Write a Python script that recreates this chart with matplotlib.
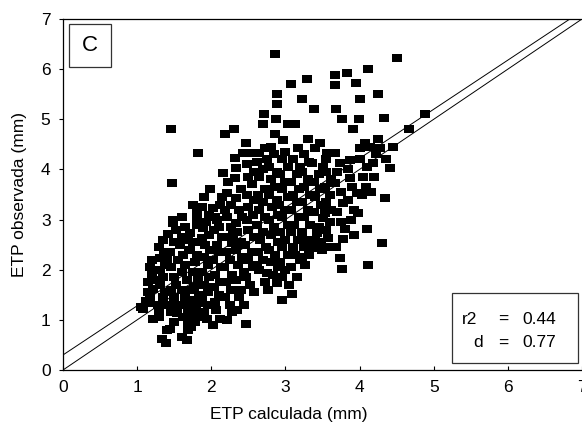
import matplotlib
matplotlib.use("Agg")
import matplotlib.pyplot as plt
from matplotlib.patches import Rectangle

plt.rcParams['font.family'] = ['Liberation Sans', 'DejaVu Sans']

# ETP calculada (x) / ETP observada (y) pairs
points = [
    # x 1.05-1.25
    (1.05,1.25),(1.08,1.21),(1.12,1.38),(1.17,1.33),(1.17,1.45),(1.15,1.55),(1.22,1.01),
    (1.21,1.62),(1.15,1.75),(1.24,1.79),(1.20,1.90),(1.18,2.05),(1.20,2.20),(1.25,2.00),
    # x 1.25-1.4
    (1.31,1.69),(1.35,1.85),(1.31,1.99),(1.31,2.23),(1.40,2.19),(1.33,0.61),(1.39,0.53),
    (1.28,1.30),(1.30,1.15),(1.35,1.45),(1.38,1.55),(1.30,2.45),(1.35,2.60),(1.38,2.10),
    (1.40,1.30),(1.40,0.80),(1.36,2.35),(1.30,1.05),
    # x 1.4-1.55
    (1.46,4.81),(1.47,3.73),(1.42,2.71),(1.48,2.93),(1.48,2.99),(1.44,2.35),(1.50,2.55),
    (1.45,2.05),(1.50,1.85),(1.45,1.60),(1.50,1.45),(1.47,1.30),(1.54,1.13),(1.44,0.81),
    (1.52,1.70),(1.55,2.20),(1.45,1.15),(1.50,0.95),(1.53,2.80),
    # x 1.55-1.7
    (1.58,2.49),(1.62,2.30),(1.60,2.65),(1.65,2.10),(1.60,1.95),(1.67,1.80),(1.60,1.60),
    (1.65,1.45),(1.58,1.30),(1.68,1.20),(1.62,1.05),(1.68,0.93),(1.68,0.79),(1.67,0.59),
    (1.60,0.65),(1.70,2.40),(1.68,2.60),(1.65,2.85),(1.60,3.05),(1.70,1.60),(1.70,1.35),
    # x 1.7-1.85
    (1.71,2.73),(1.81,2.89),(1.81,2.99),(1.81,3.13),(1.82,4.33),(1.75,3.30),(1.71,2.39),
    (1.81,2.29),(1.78,2.15),(1.75,1.95),(1.82,1.80),(1.77,1.65),(1.83,1.50),(1.76,1.40),
    (1.82,1.33),(1.80,1.20),(1.75,1.10),(1.73,0.85),(1.78,0.95),(1.84,2.55),(1.76,2.55),
    (1.84,1.05),
    # x 1.85-2.0
    (1.87,2.63),(1.89,2.83),(1.98,3.61),(1.90,3.45),(1.94,1.01),(1.90,1.15),(1.95,1.30),
    (1.88,1.45),(1.96,1.55),(1.90,1.70),(1.97,1.85),(1.88,1.95),(1.95,2.10),(1.90,2.25),
    (1.98,2.40),(1.92,2.50),(1.97,2.70),(1.93,2.95),(1.97,3.10),(1.88,3.25),
    # x 2.0-2.15
    (2.02,3.23),(2.12,3.29),(2.08,2.99),(2.08,2.49),(2.12,1.01),(2.07,1.19),(2.05,1.35),
    (2.10,1.50),(2.03,1.65),(2.12,1.75),(2.05,1.90),(2.13,2.05),(2.02,2.20),(2.10,2.35),
    (2.14,2.65),(2.03,2.80),(2.10,2.85),(2.16,3.93),(2.15,3.45),(2.05,3.05),(2.02,0.90),
    # x 2.15-2.3
    (2.18,4.71),(2.21,3.53),(2.21,3.05),(2.22,2.65),(2.28,2.53),(2.29,2.69),(2.21,0.99),
    (2.25,1.30),(2.18,1.45),(2.27,1.60),(2.20,1.75),(2.28,1.90),(2.17,2.05),(2.25,2.20),
    (2.20,2.35),(2.26,2.85),(2.18,3.20),(2.27,3.30),(2.30,4.81),(2.22,3.75),(2.28,1.15),
    # x 2.3-2.45
    (2.32,3.83),(2.34,3.43),(2.34,2.93),(2.32,4.23),(2.34,4.03),(2.43,4.33),(2.40,3.60),
    (2.38,3.20),(2.42,3.05),(2.35,2.75),(2.40,2.55),(2.33,2.40),(2.42,2.25),(2.36,2.10),
    (2.44,1.95),(2.33,1.80),(2.40,1.60),(2.37,1.45),(2.44,1.30),(2.35,1.20),
    # x 2.45-2.6
    (2.47,4.53),(2.55,4.33),(2.47,0.91),(2.48,2.99),(2.50,3.85),(2.55,3.70),(2.48,3.50),
    (2.58,3.40),(2.50,3.25),(2.56,3.10),(2.50,2.80),(2.58,2.65),(2.46,2.50),(2.55,2.35),
    (2.50,2.20),(2.56,2.05),(2.47,1.85),(2.52,1.70),(2.58,1.55),(2.48,4.10),(2.58,3.95),
    # x 2.6-2.75
    (2.71,5.11),(2.70,4.91),(2.72,4.43),(2.65,4.33),(2.65,1.99),(2.62,4.15),(2.70,4.00),
    (2.65,3.85),(2.73,3.60),(2.63,3.50),(2.70,3.35),(2.65,3.20),(2.73,3.05),(2.62,2.90),
    (2.70,2.75),(2.66,2.60),(2.74,2.45),(2.63,2.35),(2.70,2.20),(2.62,2.10),(2.75,1.93),
    (2.72,1.75),(2.75,4.20),
    # x 2.75-2.9
    (2.86,6.31),(2.88,5.51),(2.88,5.31),(2.87,5.01),(2.86,4.71),(2.83,1.89),(2.88,1.73),
    (2.77,1.59),(2.80,4.45),(2.85,4.30),(2.78,4.05),(2.88,3.95),(2.80,3.80),(2.86,3.65),
    (2.78,3.50),(2.88,3.40),(2.82,3.25),(2.90,3.10),(2.78,3.00),(2.85,2.85),(2.80,2.70),
    (2.90,2.55),(2.78,2.40),(2.86,2.30),(2.80,2.15),(2.90,2.05),
    # x 2.9-3.05
    (2.97,4.59),(3.03,4.91),(2.95,1.39),(3.00,4.35),(2.95,4.20),(3.03,4.05),(2.93,3.90),
    (3.00,3.75),(2.95,3.60),(3.04,3.45),(2.92,3.30),(3.00,3.20),(2.95,3.05),(3.04,2.90),
    (2.93,2.75),(3.00,2.60),(2.95,2.45),(3.04,2.30),(2.93,2.15),(3.00,2.00),(2.95,1.85),
    (3.05,1.70),
    # x 3.05-3.2
    (3.07,5.71),(3.13,4.91),(3.17,4.43),(3.09,1.51),(3.13,2.29),(3.19,2.19),(3.19,4.05),
    (3.10,4.20),(3.15,3.90),(3.08,3.75),(3.18,3.60),(3.10,3.50),(3.15,3.35),(3.08,3.20),
    (3.18,3.05),(3.12,2.90),(3.07,2.75),(3.17,2.60),(3.10,2.45),(3.07,2.05),(3.15,1.85),
    # x 3.2-3.35
    (3.22,5.41),(3.29,5.81),(3.26,2.09),(3.30,4.60),(3.25,4.30),(3.32,4.15),(3.22,3.95),
    (3.30,3.80),(3.25,3.65),(3.33,3.50),(3.22,3.35),(3.30,3.20),(3.25,3.05),(3.33,2.90),
    (3.22,2.75),(3.30,2.60),(3.25,2.45),(3.32,2.30),(3.22,2.25),
    # x 3.35-3.5
    (3.38,5.21),(3.40,4.43),(3.36,4.13),(3.46,4.53),(3.50,4.05),(3.42,2.73),(3.37,2.43),
    (3.49,2.39),(3.50,3.03),(3.45,3.90),(3.38,3.75),(3.47,3.60),(3.40,3.45),(3.48,3.30),
    (3.38,3.15),(3.45,2.85),(3.40,2.60),(3.48,2.55),
    # x 3.5-3.65
    (3.56,4.33),(3.53,3.13),(3.58,2.63),(3.55,3.95),(3.62,3.80),(3.53,3.65),(3.60,3.50),
    (3.55,3.35),(3.62,3.20),(3.60,2.95),(3.55,2.80),(3.62,2.45),(3.55,4.20),
    # x 3.65-3.8
    (3.67,5.89),(3.67,5.69),(3.68,5.21),(3.76,5.01),(3.67,4.33),(3.73,4.13),(3.67,3.73),
    (3.77,3.33),(3.80,2.81),(3.77,2.61),(3.73,2.23),(3.76,2.01),(3.70,3.95),(3.75,3.55),
    (3.70,3.15),(3.75,2.95),(3.68,2.45),
    # x 3.8-3.95
    (3.83,5.93),(3.95,5.73),(3.91,4.81),(3.87,4.19),(3.87,3.83),(3.85,4.00),(3.90,3.65),
    (3.85,3.40),(3.92,3.20),(3.88,3.00),(3.93,2.70),
    # x 3.95-4.1
    (4.00,5.41),(3.99,5.01),(4.07,4.53),(4.00,4.43),(3.96,3.53),(4.03,3.49),(3.98,3.13),
    (4.10,2.81),(4.00,4.20),(4.05,3.85),(4.08,3.65),(4.10,4.05),
    # x 4.1-4.3
    (4.11,6.01),(4.25,5.51),(4.14,4.45),(4.25,4.61),(4.27,4.43),(4.18,4.13),(4.11,2.09),
    (4.30,2.53),(4.20,3.85),(4.22,4.30),(4.15,3.55),
    # x > 4.3
    (4.33,5.03),(4.41,4.03),(4.34,3.43),(4.51,6.23),(4.66,4.81),(4.88,5.11),(4.35,4.20),
    (4.45,4.45),
]
etp_calc = [p[0] for p in points]
etp_obs = [p[1] for p in points]

reg_intercept = 0.3
reg_slope = 0.98
stats_names = ["r2", "d"]
stats_values = ["0.44", "0.77"]
panel_label = "C"
ticks = [0, 1, 2, 3, 4, 5, 6, 7]

fig = plt.figure(figsize=(5.82, 4.29), dpi=100)
ax = fig.add_axes([63/582, 59/429, 519/582, 351/429])

rect_marker = [(-1, -0.7), (1, -0.7), (1, 0.7), (-1, 0.7), (-1, -0.7)]
ax.scatter(etp_calc, etp_obs, marker=rect_marker, s=7.8**2, c='black',
           linewidths=0, zorder=3)

xs = [0, 7]
ax.plot(xs, [reg_intercept + reg_slope * v for v in xs], color='black', lw=0.7, zorder=2)
ax.plot(xs, xs, color='black', lw=0.7, zorder=2)

ax.set_xlim(0, 7)
ax.set_ylim(0, 7)
ax.set_xticks(ticks)
ax.set_yticks(ticks)
ax.tick_params(axis='x', direction='in', length=3, width=0.8, labelsize=12.5, pad=7)
ax.tick_params(axis='y', direction='out', length=3, width=0.8, labelsize=12.5, pad=6)
ax.spines['right'].set_visible(False)
for s in ['left', 'bottom', 'top']:
    ax.spines[s].set_linewidth(0.9)

ax.set_xlabel("ETP calculada (mm)", fontsize=12.5)
ax.set_ylabel("ETP observada (mm)", fontsize=12.5)
ax.xaxis.set_label_coords(0.435, -0.105)
ax.yaxis.set_label_coords(-0.07, 0.5)

# panel label box
ax.add_patch(Rectangle((0.08, 6.05), 0.57, 0.85, fill=False, ec='#333333', lw=0.9,
                       zorder=4, clip_on=False))
ax.text(0.365, 6.47, panel_label, fontsize=16, ha='center', va='center', zorder=5)

# statistics box
ax.add_patch(Rectangle((5.24, 0.14), 1.70, 1.40, fc='white', ec='#333333',
                       lw=0.9, zorder=4, clip_on=False))
line_y = [1.0, 0.54]
name_x = [5.38, 5.53]
for nm, val, yy, xx in zip(stats_names, stats_values, line_y, name_x):
    ax.text(xx, yy, nm, fontsize=12.5, ha='left', va='center', zorder=5)
    ax.text(5.87, yy, "=", fontsize=12.5, ha='left', va='center', zorder=5)
    ax.text(6.2, yy, val, fontsize=12.5, ha='left', va='center', zorder=5)

fig.savefig("out.png", dpi=100)
